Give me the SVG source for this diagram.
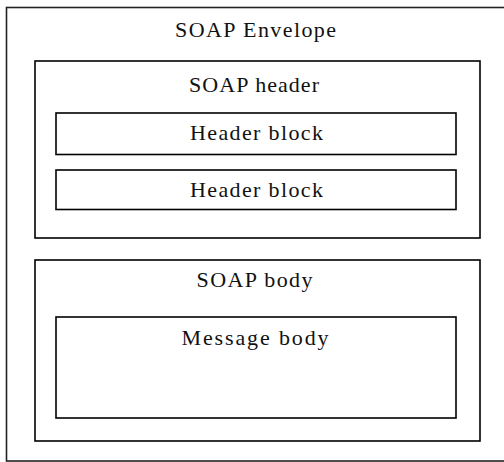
<svg xmlns="http://www.w3.org/2000/svg" width="504" height="462" viewBox="0 0 504 462">
  <style>
    .box { fill: none; stroke: #000; stroke-width: 1.6; }
    .outer { fill: none; stroke: #222; stroke-width: 1.6; }
    .lbl { font-family: "Liberation Serif", "Times New Roman", serif; font-size: 22px; fill: #111; }
  </style>
  <rect width="504" height="462" fill="#fff"/>

  <g id="envelope">
    <rect class="outer" x="6.5" y="7.5" width="520" height="453.5"/>
    <text class="lbl" x="175" y="37" textLength="161" lengthAdjust="spacing">SOAP Envelope</text>
  </g>

  <g id="header">
    <rect class="box" x="35" y="61" width="445" height="177"/>
    <text class="lbl" x="189" y="91.5" textLength="130" lengthAdjust="spacing">SOAP header</text>
  </g>

  <g id="header-block-1">
    <rect class="box" x="56" y="113" width="400" height="41.5"/>
    <text class="lbl" x="190" y="140" textLength="133" lengthAdjust="spacing">Header block</text>
  </g>

  <g id="header-block-2">
    <rect class="box" x="56" y="170" width="400" height="39.5"/>
    <text class="lbl" x="190" y="197" textLength="133" lengthAdjust="spacing">Header block</text>
  </g>

  <g id="body">
    <rect class="box" x="35" y="260" width="445" height="181"/>
    <text class="lbl" x="196.5" y="287" textLength="116" lengthAdjust="spacing">SOAP body</text>
  </g>

  <g id="message-body">
    <rect class="box" x="56" y="317" width="400" height="101"/>
    <text class="lbl" x="181.5" y="345" textLength="147" lengthAdjust="spacing">Message body</text>
  </g>

  <g id="connectors"></g>
</svg>
